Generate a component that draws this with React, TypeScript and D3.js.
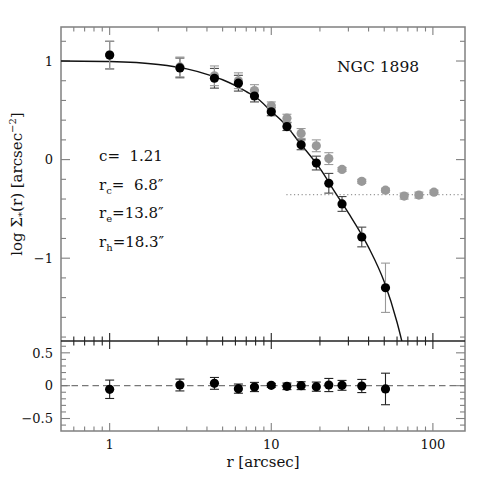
import React from "react";
import * as d3 from "d3";

// black points: background-subtracted profile
const blackR = [1, 2.72, 4.45, 6.26, 7.87, 10, 12.5, 15.3, 19, 22.7, 27.4, 36.3, 50.9];
const blackLog = [1.06, 0.93, 0.825, 0.775, 0.645, 0.485, 0.335, 0.15, -0.035, -0.24, -0.45, -0.785, -1.3];
const blackErr = [0.14, 0.1, 0.1, 0.08, 0.06, 0.04, 0.04, 0.05, 0.07, 0.1, 0.075, 0.1, 0.25];

// grey points: raw profile
const greyR = [1, 2.72, 4.45, 6.26, 7.87, 10, 12.5, 15.3, 19, 22.7, 27.4, 36.3, 50.9, 66.4, 81.9, 101.5];
const greyLog = [1.06, 0.94, 0.85, 0.8, 0.7, 0.545, 0.42, 0.265, 0.14, 0.01, -0.1, -0.22, -0.31, -0.37, -0.36, -0.33];
const greyErr = [0.14, 0.1, 0.1, 0.08, 0.06, 0.04, 0.04, 0.05, 0.06, 0.06, 0.02, 0.02, 0.02, 0.03, 0.03, 0.02];

// residuals (lower panel)
const resid = [-0.055, 0.01, 0.035, -0.045, -0.02, 0.005, -0.01, 0, -0.015, 0.01, 0.005, -0.005, -0.05];
const residErr = [0.14, 0.09, 0.09, 0.07, 0.07, 0.03, 0.05, 0.06, 0.07, 0.1, 0.075, 0.1, 0.24];

// King model curve
const modelR = [0.5, 1, 2, 3, 4, 5, 6, 7, 8, 10, 12, 15, 20, 25, 30, 40, 50, 60, 66];
const modelLog = [1.0, 0.995, 0.965, 0.92, 0.865, 0.81, 0.75, 0.69, 0.635, 0.49, 0.37, 0.17, -0.09, -0.34, -0.54, -0.89, -1.24, -1.65, -1.92];

// background level
const bgLevel = -0.355;
const bgFrom = 12.4;

const title = "NGC 1898";
const params = [
  { sym: "c", sub: "", val: "=  1.21" },
  { sym: "r", sub: "c", val: "=  6.8″" },
  { sym: "r", sub: "e", val: "=13.8″" },
  { sym: "r", sub: "h", val: "=18.3″" },
];

const W = 491;
const H = 491;
const L = 61, R = 465, T = 27, MID = 341, B = 431;
const FONT = "'DejaVu Serif', serif";
const AX = "#808080";

export default function App() {
  const x = d3.scaleLog().domain([0.5, 158]).range([L, R]);
  const yT = d3.scaleLinear().domain([-1.84, 1.345]).range([MID, T]);
  const yB = d3.scaleLinear().domain([-0.69, 0.68]).range([B, MID]);

  const xTicks = x.ticks().filter((v) => v > 0.5 && v < 158);
  const isDecade = (v: number) => Math.abs(Math.log10(v) - Math.round(Math.log10(v))) < 1e-6;
  const yTTicks = yT.ticks(16);
  const yBTicks = yB.ticks(14);
  const isInt = (v: number) => Math.abs(v - Math.round(v)) < 1e-6;
  const isHalf = (v: number) => Math.abs(v * 2 - Math.round(v * 2)) < 1e-6;
  const fmt = (v: number) => (v < 0 ? "−" : "") + Math.abs(v).toString();

  const line = d3
    .line<number>()
    .x((_, i) => x(modelR[i]))
    .y((d) => yT(d))
    .curve(d3.curveMonotoneX);

  const cap = 4.5;
  const errBar = (cx: number, y1: number, y2: number, color: string, key: string) => (
    <g key={key} stroke={color} strokeWidth={1.1}>
      <line x1={cx} x2={cx} y1={y1} y2={y2} />
      <line x1={cx - cap} x2={cx + cap} y1={y1} y2={y1} />
      <line x1={cx - cap} x2={cx + cap} y1={y2} y2={y2} />
    </g>
  );

  return (
    <svg width={W} height={H} style={{ position: "absolute", left: 0, top: 0, background: "#fff" }}>
      <defs>
        <clipPath id="topclip">
          <rect x={L} y={T} width={R - L} height={MID - T} />
        </clipPath>
      </defs>

      {/* frame */}
      <rect x={L} y={T} width={R - L} height={B - T} fill="none" stroke={AX} strokeWidth={1.5} />

      {/* x ticks: top edge, divider, bottom edge */}
      {xTicks.map((v) => {
        const len = isDecade(v) ? 8 : 4.5;
        const px = x(v);
        return (
          <g key={"xt" + v}>
            <line x1={px} x2={px} y1={T} y2={T + len} stroke={AX} strokeWidth={1.1} />
            <line x1={px} x2={px} y1={MID - len} y2={MID + len} stroke="#222" strokeWidth={1.1} />
            <line x1={px} x2={px} y1={B} y2={B - len} stroke={AX} strokeWidth={1.1} />
            {isDecade(v) && (
              <text x={px} y={449} textAnchor="middle" fontFamily={FONT} fontSize={13} fill="#111">
                {v}
              </text>
            )}
          </g>
        );
      })}

      {/* y ticks top panel */}
      {yTTicks.map((v) => {
        const len = isInt(v) ? 9 : 5;
        const py = yT(v);
        return (
          <g key={"yt" + v}>
            <line x1={L} x2={L + len} y1={py} y2={py} stroke={AX} strokeWidth={1.1} />
            <line x1={R} x2={R - len} y1={py} y2={py} stroke={AX} strokeWidth={1.1} />
            {isInt(v) && (
              <text x={53} y={py} dy="0.36em" textAnchor="end" fontFamily={FONT} fontSize={13} fill="#111">
                {fmt(Math.round(v))}
              </text>
            )}
          </g>
        );
      })}

      {/* y ticks bottom panel */}
      {yBTicks.map((v) => {
        const len = isHalf(v) ? 9 : 5;
        const py = yB(v);
        return (
          <g key={"yb" + v}>
            <line x1={L} x2={L + len} y1={py} y2={py} stroke={AX} strokeWidth={1.1} />
            <line x1={R} x2={R - len} y1={py} y2={py} stroke={AX} strokeWidth={1.1} />
            {isHalf(v) && (
              <text x={53} y={py} dy="0.36em" textAnchor="end" fontFamily={FONT} fontSize={13} fill="#111">
                {fmt(Math.round(v * 10) / 10)}
              </text>
            )}
          </g>
        );
      })}

      {/* divider between panels */}
      <line x1={L} x2={R} y1={MID} y2={MID} stroke="#222" strokeWidth={1.3} />

      {/* background level */}
      <line x1={x(bgFrom)} x2={R} y1={yT(bgLevel)} y2={yT(bgLevel)} stroke="#999" strokeWidth={1.2} strokeDasharray="1.2 2.6" />

      {/* model */}
      <path d={line(modelLog) || ""} fill="none" stroke="#111" strokeWidth={1.4} clipPath="url(#topclip)" />

      {/* black error bars */}
      {blackR.map((r, i) =>
        errBar(x(r), yT(blackLog[i] + blackErr[i]), yT(blackLog[i] - blackErr[i]), blackErr[i] > 0.2 ? "#999" : "#444", "be" + i)
      )}

      {/* grey points */}
      {greyR.map((r, i) =>
        errBar(x(r), yT(greyLog[i] + greyErr[i]), yT(greyLog[i] - greyErr[i]), "#999", "ge" + i)
      )}
      {greyR.map((r, i) => (
        <circle key={"gp" + i} cx={x(r)} cy={yT(greyLog[i])} r={4.6} fill="#999" />
      ))}

      {/* black points */}
      {blackR.map((r, i) => (
        <circle key={"bp" + i} cx={x(r)} cy={yT(blackLog[i])} r={4.6} fill="#000" />
      ))}

      {/* residual panel */}
      <line x1={L} x2={R} y1={yB(0)} y2={yB(0)} stroke="#777" strokeWidth={1.2} strokeDasharray="6.5 4" />
      {blackR.map((r, i) =>
        errBar(x(r), yB(resid[i] + residErr[i]), yB(resid[i] - residErr[i]), "#222", "re" + i)
      )}
      {blackR.map((r, i) => (
        <circle key={"rp" + i} cx={x(r)} cy={yB(resid[i])} r={4.6} fill="#000" />
      ))}

      {/* labels */}
      <text x={337} y={72} fontFamily={FONT} fontSize={15.5} fill="#111">
        {title}
      </text>
      {params.map((p, i) => (
        <text key={"pm" + i} x={99} y={161 + i * 28.5} fontFamily={FONT} fontSize={15} fill="#111" style={{ whiteSpace: "pre" }}>
          {p.sym}
          {p.sub && (
            <tspan fontSize={10} dy={4}>
              {p.sub}
            </tspan>
          )}
          <tspan dy={p.sub ? -4 : 0}>{p.val}</tspan>
        </text>
      ))}

      <text x={(L + R) / 2} y={467} textAnchor="middle" fontFamily={FONT} fontSize={15} fill="#111">
        r [arcsec]
      </text>
      <text
        transform={`translate(22, ${(T + MID) / 2}) rotate(-90)`}
        textAnchor="middle"
        fontFamily={FONT}
        fontSize={15}
        fill="#111"
      >
        log Σ
        <tspan fontSize={10} dy={3}>*</tspan>
        <tspan dy={-3}>(r) [arcsec</tspan>
        <tspan fontSize={10} dy={-6}>−2</tspan>
        <tspan dy={6}>]</tspan>
      </text>
    </svg>
  );
}
